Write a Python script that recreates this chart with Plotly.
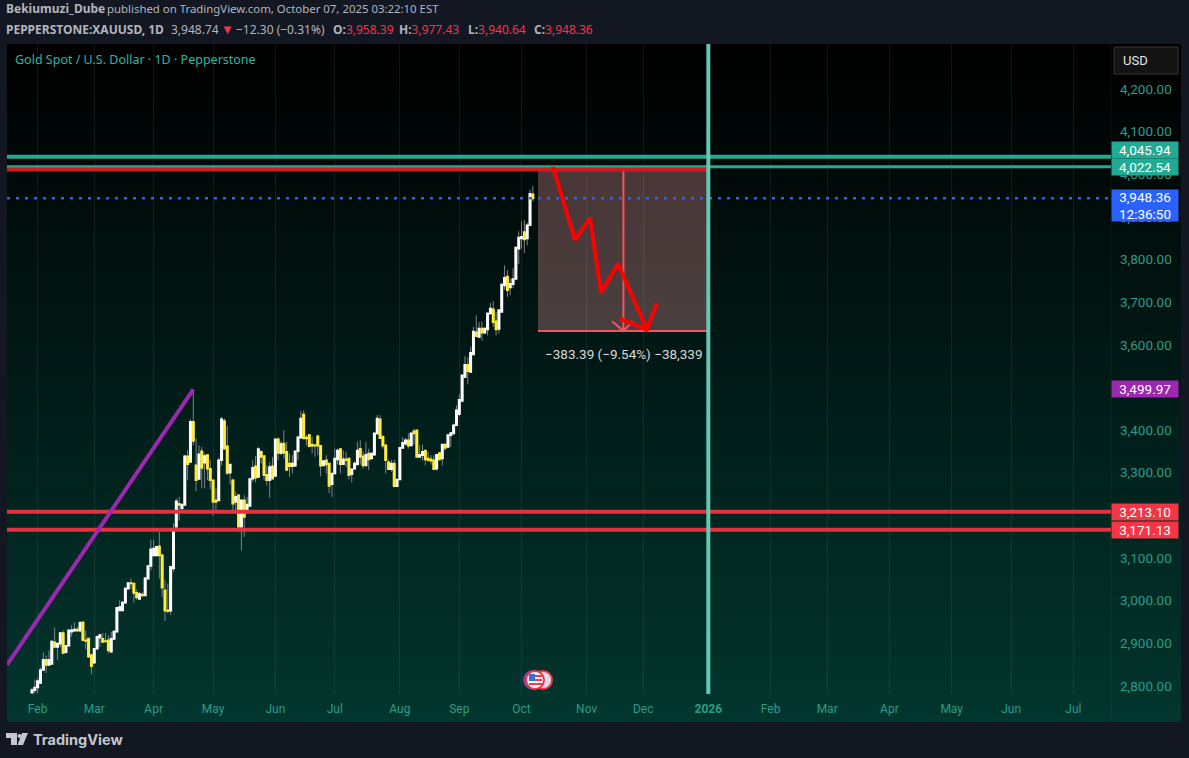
import plotly.graph_objects as go

# daily bars, oldest first
opens = [2789,2795,2801,2812,2842,2866,2854,2856,2907,2896,2904,2929,2884,2899,2932,2934,2937,2934,2954,2912,
         2916,2877,2859,2892,2918,2915,2910,2912,2885,2915,2932,2982,2982,3000,3033,3046,3045,3023,3009,3019,
         3017,3056,3086,3111,3111,3132,3111,3029,2982,2981,3080,3178,3232,3221,3229,3343,3330,3424,3322,3290,
         3355,3328,3346,3314,3287,3240,3240,3334,3426,3367,3305,3287,3236,3252,3178,3240,3219,3227,3291,3320,
         3295,3354,3344,3300,3287,3320,3297,3383,3351,3373,3354,3326,3320,3321,3355,3387,3441,3387,3393,3371,
         3369,3390,3368,3322,3334,3326,3278,3303,3336,3360,3325,3336,3338,3301,3314,3324,3361,3343,3322,3350,
         3338,3347,3397,3430,3389,3369,3329,3313,3326,3273,3289,3363,3373,3381,3369,3402,3404,3342,3346,3357,
         3338,3336,3334,3314,3351,3338,3371,3365,3393,3397,3416,3442,3473,3529,3558,3541,3582,3634,3623,3643,
         3633,3641,3678,3688,3660,3642,3682,3744,3765,3739,3747,3759,3830,3854,3869,3854,3885,3958]
closes = [2795,2801,2816,2842,2866,2854,2866,2909,2896,2904,2929,2882,2899,2935,2935,2937,2934,2953,2912,2910,
          2873,2851,2892,2920,2924,2908,2909,2888,2915,2932,2988,2990,3000,3033,3046,3045,3023,3012,3020,3017,
          3057,3086,3125,3127,3131,3111,3035,2981,2980,3084,3170,3238,3229,3230,3343,3325,3424,3379,3287,3348,
          3316,3344,3314,3287,3236,3236,3334,3430,3361,3304,3324,3232,3248,3178,3240,3201,3230,3290,3316,3293,
          3360,3342,3299,3287,3318,3291,3383,3351,3372,3351,3311,3320,3326,3355,3388,3432,3385,3385,3367,3368,
          3368,3368,3321,3332,3324,3274,3303,3338,3357,3325,3336,3334,3299,3313,3326,3357,3342,3322,3347,3336,
          3350,3397,3432,3386,3368,3334,3313,3326,3273,3289,3363,3375,3381,3368,3397,3397,3342,3347,3354,3336,
          3334,3333,3313,3347,3336,3371,3363,3393,3398,3416,3451,3476,3533,3558,3543,3586,3636,3625,3643,3633,
          3643,3678,3690,3658,3641,3686,3746,3762,3733,3748,3759,3833,3856,3858,3852,3885,3959,3948]
highs = [2799,2820,2824,2848,2884,2876,2888,2912,2942,2904,2931,2935,2899,2937,2947,2954,2943,2957,2954,2935,
         2916,2880,2892,2923,2927,2929,2929,2924,2932,2936,2990,3006,3004,3037,3048,3057,3047,3031,3025,3025,
         3061,3087,3148,3148,3131,3166,3115,3054,3045,3084,3186,3244,3248,3232,3347,3358,3430,3500,3385,3369,
         3365,3350,3348,3334,3289,3268,3340,3436,3432,3415,3324,3291,3260,3254,3240,3252,3248,3292,3334,3344,
         3365,3358,3344,3322,3330,3342,3383,3388,3379,3404,3377,3350,3346,3355,3392,3449,3451,3393,3395,3389,
         3373,3394,3370,3334,3346,3328,3303,3361,3361,3361,3357,3354,3340,3315,3332,3377,3381,3355,3377,3361,
         3352,3397,3440,3440,3393,3371,3335,3335,3335,3289,3363,3389,3386,3397,3397,3408,3405,3369,3371,3357,
         3354,3346,3346,3349,3353,3371,3373,3393,3400,3420,3463,3489,3533,3578,3576,3600,3647,3674,3658,3659,
         3646,3682,3703,3707,3682,3686,3750,3791,3780,3760,3784,3835,3871,3894,3897,3891,3969,3977]
lows = [2789,2788,2788,2809,2840,2835,2852,2854,2893,2866,2895,2879,2880,2899,2920,2931,2933,2932,2912,2890,
        2871,2832,2857,2890,2896,2905,2907,2881,2883,2913,2930,2980,2980,2998,3031,3032,3000,3007,3007,3013,
        3015,3056,3076,3109,3110,3057,3014,2957,2975,2971,3072,3174,3193,3221,3229,3287,3328,3369,3261,3290,
        3268,3268,3287,3266,3204,3213,3240,3322,3361,3299,3277,3209,3209,3166,3122,3154,3209,3225,3283,3282,
        3293,3326,3287,3275,3246,3289,3295,3334,3346,3338,3309,3295,3303,3319,3334,3385,3385,3369,3365,3350,
        3342,3346,3296,3320,3303,3257,3248,3301,3324,3303,3323,3318,3289,3282,3312,3322,3324,3314,3322,3311,
        3336,3345,3393,3384,3361,3303,3311,3307,3271,3271,3287,3361,3369,3361,3367,3371,3340,3340,3334,3322,
        3330,3324,3311,3310,3334,3322,3357,3363,3365,3394,3414,3437,3470,3527,3512,3539,3580,3623,3621,3614,
        3631,3627,3675,3647,3627,3631,3682,3734,3717,3721,3737,3759,3794,3830,3820,3838,3883,3941]
bars = list(range(len(opens)))

# time axis ticks, as bar numbers
month_bars = [2, 22, 43, 64, 86, 107, 130, 151, 173, 196, 216, 239, 261, 281, 303, 325, 346, 368]
month_labels = ['Feb', 'Mar', 'Apr', 'May', 'Jun', 'Jul', 'Aug', 'Sep', 'Oct', 'Nov', 'Dec', '<b>2026</b>',
                'Feb', 'Mar', 'Apr', 'May', 'Jun', 'Jul']
# 3,200 and 3,500 sit fully behind the price tags
price_ticks = [2800, 2900, 3000, 3100, 3300, 3400, 3600, 3700, 3800, 3900, 4000, 4100, 4200]
price_labels = ['2,800.00', '2,900.00', '3,000.00', '3,100.00', '3,300.00', '3,400.00',
                '3,600.00', '3,700.00', '3,800.00', '3,900.00', '4,000.00', '4,100.00', '4,200.00']

# drawings on the chart
bar_min, bar_max = -8.83, 381.3
price_min, price_max = 2785.8, 4310.2
trend_bars = [-8.83, 57]
trend_prices = [2854, 3499.97]
zigzag_bars = [184.1, 191.9, 197.2, 201.1, 207.1, 217.3, 207.8, 217.3, 220.8]
zigzag_prices = [4022, 3851, 3902, 3727, 3795, 3640, 3666, 3640, 3703]
measure_bars = [178.8, 239]
measure_prices = [3637, 4015.4]
measure_mid = 209
tip_bars = [205, 209, 212.2]
tip_prices = [3660, 3637, 3660]
cursor_bar = 239
support_a, support_b = 3213.10, 3171.13
resist_a, resist_b = 4045.94, 4022.54
resist_red = 4016
last_price = 3948.36
pivot_price = 3499.97

BG = '#131722'
RED = '#f23645'
GREEN = '#22ab94'
TICK = '#2a9d88'

L, R, T, B = 7, 1111, 44, 694


def px(x):
    return (x - L) / (R - L)


def py(y):
    return 1 - (y - T) / (B - T)


def pixel_path(points):
    return 'M ' + ' L '.join(f'{px(x):.5f},{py(y):.5f}' for x, y in points) + ' Z'


shapes = []
# pane background: black at the top, dark green at the bottom
for y in range(44, 722, 6):
    f = (y - 44) / 678
    shapes.append(dict(type='rect', xref='paper', yref='paper', layer='below',
                       x0=px(7), x1=px(1181), y0=py(y), y1=py(y + 6), line_width=0,
                       fillcolor=f'rgb({round(2 * f)},{round(54 * f)},{round(46 * f)})'))
# scale divider
shapes.append(dict(type='line', xref='paper', yref='paper', layer='below', x0=1, x1=1, y0=py(44), y1=py(722),
                   line=dict(color='rgba(255,255,255,0.05)', width=1)))
# USD button
shapes.append(dict(type='rect', xref='paper', yref='paper', x0=px(1114), x1=px(1178), y0=py(47), y1=py(74),
                   fillcolor='#141414', line=dict(color='#333333', width=1)))
# event flags
for cx, col, fill in [(533, '#7b3fa8', '#7b3fa8'), (543, RED, '#d8dde8'), (535, RED, '#f4f4f8')]:
    shapes.append(dict(type='circle', xref='paper', yref='paper', x0=px(cx - 9), x1=px(cx + 9),
                       y0=py(689), y1=py(671), fillcolor=fill, line=dict(color=col, width=2)))
shapes.append(dict(type='rect', xref='paper', yref='paper', x0=px(529), x1=px(535), y0=py(681), y1=py(674),
                   fillcolor='#3d6fd8', line_width=0))
for sy in (675, 679, 683):
    shapes.append(dict(type='rect', xref='paper', yref='paper', x0=px(535 if sy < 681 else 529), x1=px(542),
                       y0=py(sy + 2), y1=py(sy), fillcolor='#ee3f4b', line_width=0))
# TradingView logo
shapes.append(dict(type='path', xref='paper', yref='paper', fillcolor='#c4c7cf', line_width=0,
                   path=pixel_path([(6, 733), (17, 733), (17, 745), (11, 745), (11, 738), (6, 738)])))
shapes.append(dict(type='circle', xref='paper', yref='paper', fillcolor='#c4c7cf', line_width=0,
                   x0=px(17.5), x1=px(21.5), y0=py(738), y1=py(734)))
shapes.append(dict(type='path', xref='paper', yref='paper', fillcolor='#c4c7cf', line_width=0,
                   path=pixel_path([(22, 733), (28, 733), (23, 745), (17.5, 745)])))

fig = go.Figure()

# wicks first, then bodies over them so wicks stay grey
fig.add_trace(go.Candlestick(
    x=bars, open=opens, high=highs, low=lows, close=closes, whiskerwidth=0,
    increasing=dict(line=dict(color='#7f8389', width=1), fillcolor='#7f8389'),
    decreasing=dict(line=dict(color='#7f8389', width=1), fillcolor='#7f8389'),
    showlegend=False))
fig.add_trace(go.Candlestick(
    x=bars, open=opens, close=closes, whiskerwidth=0,
    high=[max(o, c) for o, c in zip(opens, closes)],
    low=[min(o, c) for o, c in zip(opens, closes)],
    increasing=dict(line=dict(color='#ffffff', width=1.6), fillcolor='#ffffff'),
    decreasing=dict(line=dict(color='#ffeb3b', width=1.6), fillcolor='#ffeb3b'),
    showlegend=False))


def add_line(xs, ys, color, width, dash='solid'):
    fig.add_trace(go.Scatter(x=xs, y=ys, mode='lines', showlegend=False, hoverinfo='skip',
                             line=dict(color=color, width=width, dash=dash)))


# short position box
fig.add_trace(go.Scatter(
    x=[measure_bars[0], measure_bars[1], measure_bars[1], measure_bars[0], measure_bars[0]],
    y=[measure_prices[0], measure_prices[0], measure_prices[1], measure_prices[1], measure_prices[0]],
    mode='lines', fill='toself', fillcolor='rgba(246,160,165,0.30)', line_width=0,
    showlegend=False, hoverinfo='skip'))
add_line(measure_bars, [measure_prices[0], measure_prices[0]], '#f7525f', 2)
add_line([measure_mid, measure_mid], measure_prices, '#f7525f', 2)
add_line(tip_bars, tip_prices, '#f7525f', 2)

add_line([bar_min, bar_max], [resist_a, resist_a], GREEN, 4)
add_line([bar_min, bar_max], [resist_b, resist_b], GREEN, 3)
add_line([bar_min, measure_bars[1]], [resist_red, resist_red], '#d01c1c', 4)
add_line([bar_min, bar_max], [last_price, last_price], '#2962ff', 2.5, '3px,6px')
add_line([bar_min, bar_max], [support_a, support_a], '#e5323e', 4)
add_line([bar_min, bar_max], [support_b, support_b], '#e5323e', 4)
add_line(trend_bars, trend_prices, '#9c27b0', 4)
add_line([cursor_bar, cursor_bar], [price_min, price_max], '#64c9b4', 4)
add_line(zigzag_bars, zigzag_prices, '#ff0000', 4)

TEXT = '#b2b5be'
r = f'<span style="color:{RED}">'
header = [
    ('<b>Bekiumuzi_Dube</b>', 6, 9, 12, TEXT),
    ('published on TradingView.com, October 07, 2025 03:22:10 EST', 107, 9, 11.4, TEXT),
    ('<b>PEPPERSTONE:XAUUSD, 1D</b>', 6, 29, 12, TEXT),
    ('3,948.74', 171, 29, 12, TEXT),
    ('▼', 221, 29, 13, RED),
    ('−12.30 (−0.31%)', 236, 29, 12, TEXT),
    (f'<b>O:</b>{r}3,958.39</span>', 333, 29, 12, TEXT),
    (f'<b>H:</b>{r}3,977.43</span>', 399, 29, 12, TEXT),
    (f'<b>L:</b>{r}3,940.64</span>', 468, 29, 12, TEXT),
    (f'<b>C:</b>{r}3,948.36</span>', 534, 29, 12, TEXT),
    ('Gold Spot / U.S. Dollar · 1D · Pepperstone', 15, 60, 12.5, '#2fb59f'),
    ('<b>TradingView</b>', 33, 739, 14.5, '#c4c7cf'),
]
annotations = []
for text, x, y, size, col in header:
    annotations.append(dict(text=text, xref='paper', yref='paper', x=px(x - 2), y=py(y), xanchor='left',
                            yanchor='middle', showarrow=False, font=dict(family='Noto Sans', size=size, color=col)))
annotations[-1]['font']['family'] = 'Inter'

annotations.append(dict(text='USD', xref='paper', yref='paper', x=px(1135), y=py(60.5), showarrow=False,
                        xanchor='center', yanchor='middle', font=dict(family='Roboto', size=13, color='#e6e6e6')))
annotations.append(dict(text='−383.39 (−9.54%) −38,339', xref='x', yref='paper', x=measure_mid, y=py(354),
                        showarrow=False, xanchor='center', yanchor='middle',
                        font=dict(family='Roboto', size=13.5, color='#d8d8d8')))

tags = [('4,045.94', resist_a, GREEN, 16, 7),
        ('4,022.54', resist_b, GREEN, 16, 0),
        ('3,948.36<br>12:36:50', last_price, '#2962ff', 31, -7.5),
        ('3,499.97', pivot_price, '#9c27b0', 16, 0),
        ('3,213.10', support_a, RED, 16, 0),
        ('3,171.13', support_b, RED, 16, 0)]
for text, price, col, h, shift in tags:
    annotations.append(dict(text=text, xref='paper', yref='y', x=px(1111), y=price, xanchor='left',
                            yshift=shift, showarrow=False, width=66, height=h, bgcolor=col, borderpad=0,
                            font=dict(family='Roboto', size=13.5, color='#ffffff')))

fig.update_layout(
    width=1189,
    height=758,
    margin=dict(l=L, r=1189 - R, t=T, b=758 - B),
    paper_bgcolor=BG,
    plot_bgcolor='rgba(0,0,0,0)',
    showlegend=False,
    shapes=shapes,
    annotations=annotations,
    xaxis=dict(
        range=[bar_min, bar_max], tickmode='array', tickvals=month_bars, ticktext=month_labels,
        rangeslider_visible=False, showgrid=True, gridcolor='rgba(120,160,150,0.13)', gridwidth=1,
        zeroline=False, showline=False, ticks='', ticklabelstandoff=6,
        tickfont=dict(family='Roboto', size=12, color=TICK)),
    yaxis=dict(
        range=[price_min, price_max], side='right', tickmode='array', tickvals=price_ticks,
        ticktext=price_labels, showgrid=False, zeroline=False, showline=False, ticks='',
        ticklabelstandoff=8, ticklabelshift=-2,
        tickfont=dict(family='Roboto', size=13.5, color=TICK)),
)

fig.write_html('out.html', config={'displayModeBar': False},
               post_script="document.body.style.margin='0';document.body.style.overflow='hidden';")
